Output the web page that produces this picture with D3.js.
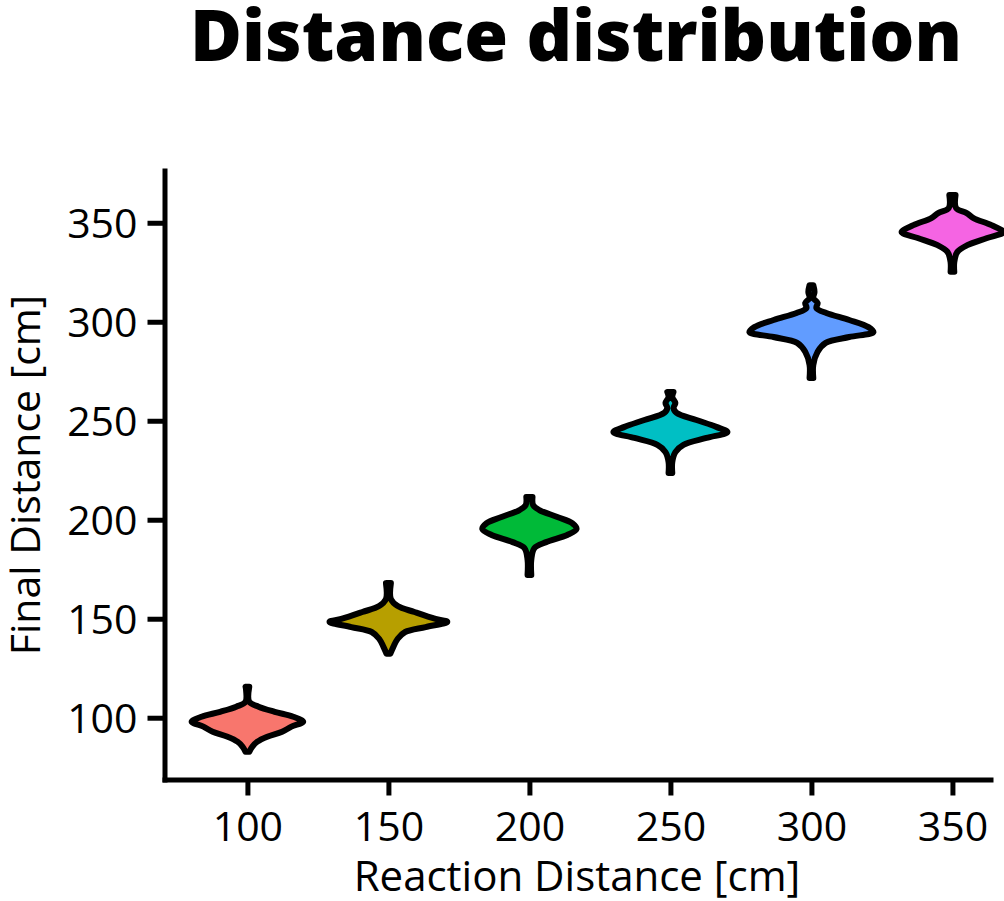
<!DOCTYPE html>
<html>
<head>
<meta charset="utf-8">
<script src="https://cdn.jsdelivr.net/npm/d3@7"></script>
<style>
  body { margin: 0; background: #fff; }
  text { font-family: "Open Sans", "Noto Sans", sans-serif; fill: #000; }
</style>
</head>
<body>
<svg id="chart" width="1004" height="901"></svg>
<script>
// reaction distances (x categories) and violin colours
let groups = [100, 150, 200, 250, 300, 350];
let groupColors = ['#F8766D', '#B79F00', '#00BA38', '#00BFC4', '#619CFF', '#F564E3'];
let xTicks = [100, 150, 200, 250, 300, 350];
let yTicks = [100, 150, 200, 250, 300, 350];

// density profiles: final distance values (top to bottom)
// and the relative density (half-width) at each of them
let finalVals100 = [115.7, 108.1, 105.6, 103.0, 100.5, 98.0, 95.5, 92.9, 90.4, 87.9, 85.4, 82.8];
let density100   = [0.03, 0.03, 0.18, 0.44, 0.74, 0.90, 0.71, 0.56, 0.32, 0.16, 0.08, 0.03];

let finalVals150 = [168.0, 159.9, 156.4, 153.4, 149.9, 148.4, 145.8, 143.3, 139.9, 135.8, 132.3];
let density150   = [0.04, 0.04, 0.15, 0.42, 0.76, 0.95, 0.60, 0.27, 0.15, 0.08, 0.03];

let finalVals200 = [211.5, 207.4, 204.9, 201.4, 198.3, 195.3, 192.3, 188.7, 185.7, 179.7, 172.1];
let density200   = [0.05, 0.06, 0.16, 0.45, 0.69, 0.76, 0.61, 0.27, 0.08, 0.03, 0.03];

let finalVals250 = [264.5, 262.0, 259.0, 256.5, 254.0, 250.4, 246.9, 244.3, 241.3, 237.8, 234.2, 229.2, 223.6];
let density250   = [0.05, 0.03, 0.08, 0.05, 0.10, 0.42, 0.74, 0.92, 0.58, 0.21, 0.08, 0.03, 0.03];

let finalVals300 = [318.5, 315.0, 312.0, 309.5, 307.0, 304.4, 300.9, 297.3, 294.8, 292.3, 289.3, 284.8, 278.2, 271.6];
let density300   = [0.03, 0.05, 0.03, 0.10, 0.08, 0.24, 0.61, 0.92, 1.00, 0.61, 0.23, 0.10, 0.03, 0.03];

let finalVals350 = [364.0, 357.4, 354.9, 352.4, 348.8, 345.3, 342.3, 338.7, 335.3, 330.2, 325.2];
let density350   = [0.05, 0.06, 0.23, 0.34, 0.63, 0.82, 0.56, 0.24, 0.08, 0.03, 0.03];

let allVals = [finalVals100, finalVals150, finalVals200, finalVals250, finalVals300, finalVals350];
let allDens = [density100, density150, density200, density250, density300, density350];

document.addEventListener("DOMContentLoaded", function(){
    let svg = d3.select('#chart');

    let x = d3.scaleLinear()
        .domain([70.6, 363.5])
        .range([164.5, 990.5]);

    let y = d3.scaleLinear()
        .domain([68.8, 376.4])
        .range([779.5, 170.5]);

    // density -> half width in pixels
    let w = d3.scaleLinear()
        .domain([0, 1])
        .range([0, 62]);

    // violins
    groups.forEach((g, i) => {
        let profile = allVals[i].map((v, j) => ({v: v, d: allDens[i][j]}));
        let cx = x(g);
        let area = d3.area()
            .y(d => y(d.v))
            .x0(d => cx - w(d.d))
            .x1(d => cx + w(d.d))
            .curve(d3.curveCatmullRom);
        svg.append("path")
            .datum(profile)
            .attr("fill", groupColors[i])
            .attr("stroke", "#000")
            .attr("stroke-width", 6)
            .attr("stroke-linejoin", "round")
            .attr("d", area);
    });

    // y axis
    let yAxis = svg.append("g")
        .attr("transform", "translate(164.5,0)")
        .call(d3.axisLeft(y).tickValues(yTicks).tickSize(17).tickSizeOuter(0).tickPadding(10));
    yAxis.selectAll("text").style("font-size", "41px").attr("dy", "0.36em");

    // x axis
    let xAxis = svg.append("g")
        .attr("transform", "translate(0,779.5)")
        .call(d3.axisBottom(x).tickValues(xTicks).tickSize(16).tickSizeOuter(0).tickPadding(16));
    xAxis.selectAll("text").style("font-size", "41px");

    svg.selectAll(".domain, .tick line")
        .attr("stroke", "#000")
        .attr("stroke-width", 5)
        .attr("stroke-linecap", "square");
    svg.selectAll(".tick line").attr("stroke-linecap", "butt");
    svg.selectAll(".tick text").attr("fill", "#000");

    // axis titles
    svg.append("text")
        .attr("x", 577)
        .attr("y", 891)
        .attr("text-anchor", "middle")
        .style("font-size", "42px")
        .text("Reaction Distance [cm]");

    svg.append("text")
        .attr("transform", "translate(40,475) rotate(-90)")
        .attr("text-anchor", "middle")
        .style("font-size", "41px")
        .text("Final Distance [cm]");

    // title
    svg.append("text")
        .attr("x", 576)
        .attr("y", 61)
        .attr("text-anchor", "middle")
        .style("font-size", "70px")
        .style("font-weight", "800")
        .attr("textLength", 772)
        .attr("lengthAdjust", "spacingAndGlyphs")
        .text("Distance distribution");
});
</script>
</body>
</html>
